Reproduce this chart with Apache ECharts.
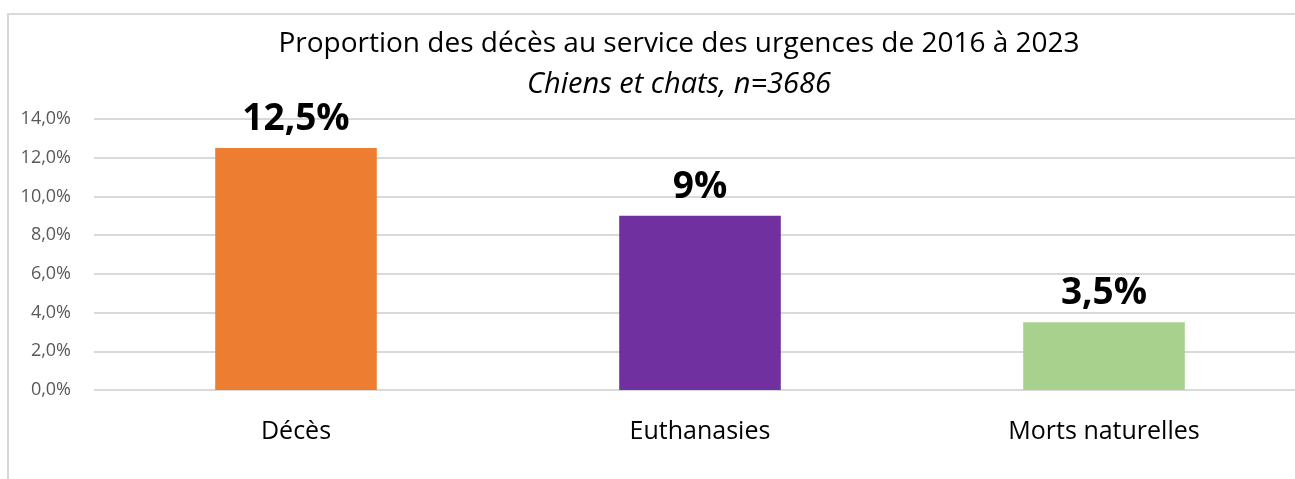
<!DOCTYPE html>
<html>
<head>
<meta charset="utf-8">
<script src="https://cdn.jsdelivr.net/npm/echarts@6/dist/echarts.min.js"></script>
<style>
  html, body { margin: 0; padding: 0; background: #fff; overflow: hidden; }
  #chart { width: 1295px; height: 479px; }
</style>
</head>
<body>
<div id="chart"></div>
<script>
const categories = ['Décès', 'Euthanasies', 'Morts naturelles'];
const values = [12.5, 9, 3.5];
const barColors = ['#ED7D31', '#7030A0', '#A9D18E'];

const chart = echarts.init(document.getElementById('chart'), null, { renderer: 'canvas' });

function frenchNumber(v, digits) {
  return v.toFixed(digits).replace('.', ',');
}

chart.setOption({
  animation: false,
  textStyle: { fontFamily: 'Open Sans' },
  graphic: [{
    type: 'rect',
    shape: { x: 8, y: 14, width: 1400, height: 600 },
    style: { fill: 'none', stroke: '#d9d9d9', lineWidth: 2 },
    silent: true
  }],
  title: {
    text: 'Proportion des décès au service des urgences de 2016 à 2023',
    subtext: 'Chiens et chats, n=3686',
    left: 674, top: 25,
    textAlign: 'center',
    itemGap: 12,
    textStyle: { fontSize: 28, fontWeight: 'normal', color: '#000', fontFamily: 'Open Sans' },
    subtextStyle: { fontSize: 29, fontStyle: 'italic', color: '#000', fontFamily: 'Open Sans' }
  },
  grid: { left: 94, top: 119, width: 1212, height: 271, outerBoundsMode: 'none', containLabel: false },
  xAxis: {
    type: 'category',
    data: categories,
    axisLine: { show: false },
    axisTick: { show: false },
    axisLabel: { fontSize: 25, color: '#000', margin: 29 }
  },
  yAxis: {
    type: 'value',
    min: 0, max: 14, interval: 2,
    axisLine: { show: false },
    axisTick: { show: false },
    splitLine: { lineStyle: { color: '#d9d9d9', width: 2 } },
    axisLabel: {
      fontSize: 18, color: '#595959', margin: 23,
      formatter: v => frenchNumber(v, 1) + '%'
    }
  },
  series: [{
    type: 'bar',
    data: values.map((v, i) => ({ value: v, itemStyle: { color: barColors[i] } })),
    barWidth: '40%',
    label: {
      show: true,
      position: 'top',
      distance: 10,
      fontSize: 37,
      fontWeight: 'bold',
      color: '#000',
      formatter: p => (Number.isInteger(p.value) ? String(p.value) : frenchNumber(p.value, 1)) + '%'
    }
  }]
});
</script>
</body>
</html>
